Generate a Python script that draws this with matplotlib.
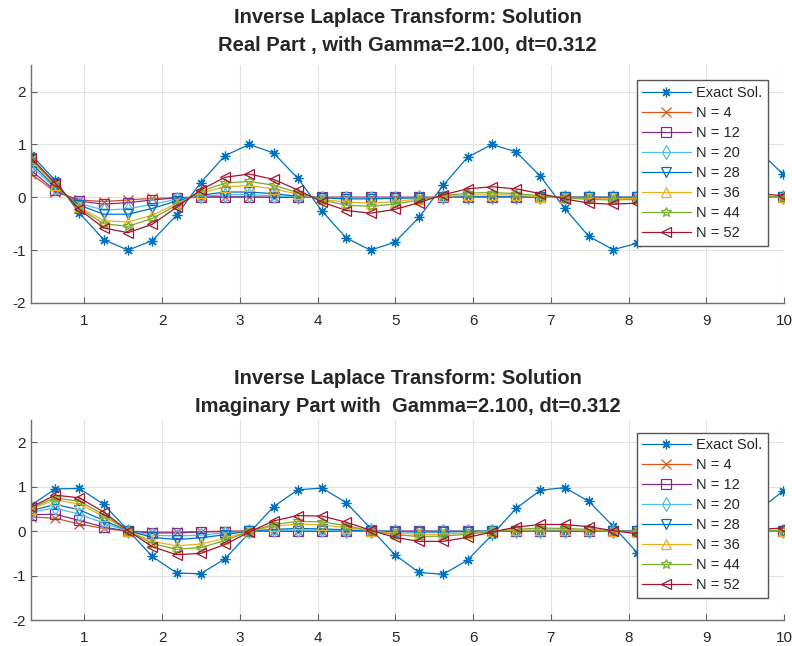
import numpy as np
import matplotlib
matplotlib.use("Agg")
import matplotlib.pyplot as plt

# time axis: t = k*dt, k = 1..32, dt = 0.312
t = [0.312, 0.624, 0.936, 1.248, 1.560, 1.872, 2.184, 2.496, 2.808, 3.120,
     3.432, 3.744, 4.056, 4.368, 4.680, 4.992, 5.304, 5.616, 5.928, 6.240,
     6.552, 6.864, 7.176, 7.488, 7.800, 8.112, 8.424, 8.736, 9.048, 9.360,
     9.672, 9.984]

labels = ["Exact Sol.", "N = 4", "N = 12", "N = 20", "N = 28", "N = 36", "N = 44", "N = 52"]

# real part
re_exact = [0.81, 0.32, -0.30, -0.80, -1.00, -0.82, -0.34, 0.28, 0.79, 1.00,
            0.84, 0.36, -0.26, -0.77, -1.00, -0.85, -0.38, 0.23, 0.76, 1.00,
            0.86, 0.40, -0.21, -0.74, -0.99, -0.87, -0.42, 0.19, 0.73, 0.99,
            0.88, 0.44]
re_n4 = [0.45, 0.10, -0.05, -0.08, -0.05, -0.02, -0.01, 0.00, 0.00, 0.00,
         0.00, 0.00, 0.00, 0.00, 0.00, 0.00, 0.00, 0.00, 0.00, 0.00,
         0.00, 0.00, 0.00, 0.00, 0.00, 0.00, 0.00, 0.00, 0.00, 0.00,
         0.00, 0.00]
re_n12 = [0.51, 0.13, -0.07, -0.13, -0.10, -0.05, -0.01, 0.01, 0.01, 0.01,
          0.00, 0.00, 0.00, 0.00, 0.00, 0.00, 0.00, 0.00, 0.00, 0.00,
          0.00, 0.00, 0.00, 0.00, 0.00, 0.00, 0.00, 0.00, 0.00, 0.00,
          0.00, 0.00]
re_n20 = [0.60, 0.17, -0.12, -0.24, -0.22, -0.13, -0.04, 0.02, 0.05, 0.05,
          0.03, 0.01, -0.01, -0.01, -0.01, -0.01, 0.00, 0.00, 0.00, 0.00,
          0.00, 0.00, 0.00, 0.00, 0.00, 0.00, 0.00, 0.00, 0.00, 0.00,
          0.00, 0.00]
re_n28 = [0.65, 0.20, -0.15, -0.32, -0.32, -0.21, -0.07, 0.04, 0.10, 0.10,
          0.07, 0.02, -0.01, -0.03, -0.03, -0.02, -0.01, 0.00, 0.01, 0.01,
          0.01, 0.00, 0.00, 0.00, 0.00, 0.00, 0.00, 0.00, 0.00, 0.00,
          0.00, 0.00]
re_n36 = [0.70, 0.24, -0.19, -0.44, -0.47, -0.34, -0.12, 0.08, 0.20, 0.22,
          0.16, 0.06, -0.04, -0.09, -0.11, -0.08, -0.03, 0.02, 0.04, 0.05,
          0.04, 0.01, -0.01, -0.02, -0.02, -0.02, -0.01, 0.00, 0.01, 0.01,
          0.01, 0.00]
re_n44 = [0.72, 0.25, -0.21, -0.50, -0.55, -0.40, -0.15, 0.11, 0.27, 0.30,
          0.23, 0.09, -0.05, -0.15, -0.17, -0.13, -0.05, 0.03, 0.08, 0.09,
          0.07, 0.03, -0.01, -0.04, -0.05, -0.04, -0.02, 0.01, 0.02, 0.03,
          0.02, 0.01]
re_n52 = [0.75, 0.27, -0.23, -0.58, -0.67, -0.51, -0.19, 0.14, 0.38, 0.44,
          0.34, 0.14, -0.09, -0.25, -0.30, -0.23, -0.10, 0.05, 0.16, 0.20,
          0.16, 0.07, -0.03, -0.11, -0.13, -0.11, -0.05, 0.02, 0.07, 0.09,
          0.07, 0.03]

# imaginary part
im_exact = [0.58, 0.95, 0.96, 0.60, 0.02, -0.57, -0.94, -0.96, -0.62, -0.04,
            0.55, 0.93, 0.97, 0.64, 0.06, -0.53, -0.93, -0.97, -0.65, -0.09,
            0.51, 0.92, 0.98, 0.67, 0.11, -0.49, -0.91, -0.98, -0.69, -0.13,
            0.47, 0.90]
im_n4 = [0.32, 0.29, 0.16, 0.06, 0.00, -0.02, -0.02, -0.01, 0.00, 0.00,
         0.00, 0.00, 0.00, 0.00, 0.00, 0.00, 0.00, 0.00, 0.00, 0.00,
         0.00, 0.00, 0.00, 0.00, 0.00, 0.00, 0.00, 0.00, 0.00, 0.00,
         0.00, 0.00]
im_n12 = [0.37, 0.38, 0.24, 0.09, 0.00, -0.04, -0.04, -0.02, -0.01, 0.00,
          0.00, 0.00, 0.00, 0.00, 0.00, 0.00, 0.00, 0.00, 0.00, 0.00,
          0.00, 0.00, 0.00, 0.00, 0.00, 0.00, 0.00, 0.00, 0.00, 0.00,
          0.00, 0.00]
im_n20 = [0.43, 0.52, 0.38, 0.18, 0.00, -0.09, -0.11, -0.09, -0.04, 0.00,
          0.02, 0.02, 0.02, 0.01, 0.00, 0.00, -0.01, 0.00, 0.00, 0.00,
          0.00, 0.00, 0.00, 0.00, 0.00, 0.00, 0.00, 0.00, 0.00, 0.00,
          0.00, 0.00]
im_n28 = [0.46, 0.60, 0.48, 0.24, 0.01, -0.14, -0.19, -0.15, -0.08, 0.00,
          0.04, 0.06, 0.05, 0.03, 0.00, -0.01, -0.02, -0.02, -0.01, 0.00,
          0.00, 0.01, 0.00, 0.00, 0.00, 0.00, 0.00, 0.00, 0.00, 0.00,
          0.00, 0.00]
im_n36 = [0.50, 0.70, 0.61, 0.33, 0.01, -0.23, -0.33, -0.29, -0.16, -0.01,
          0.11, 0.16, 0.14, 0.08, 0.01, -0.05, -0.07, -0.07, -0.04, 0.00,
          0.02, 0.03, 0.03, 0.02, 0.00, -0.01, -0.02, -0.01, -0.01, 0.00,
          0.00, 0.01]
im_n44 = [0.52, 0.75, 0.67, 0.37, 0.01, -0.28, -0.41, -0.37, -0.21, -0.01,
          0.15, 0.22, 0.21, 0.12, 0.01, -0.08, -0.12, -0.11, -0.07, -0.01,
          0.04, 0.07, 0.06, 0.04, 0.01, -0.02, -0.04, -0.04, -0.02, 0.00,
          0.01, 0.02]
im_n52 = [0.54, 0.81, 0.75, 0.43, 0.01, -0.35, -0.53, -0.50, -0.30, -0.02,
          0.23, 0.35, 0.34, 0.20, 0.02, -0.14, -0.23, -0.23, -0.14, -0.02,
          0.09, 0.15, 0.15, 0.10, 0.01, -0.06, -0.10, -0.10, -0.07, -0.01,
          0.04, 0.07]

real_series = [re_exact, re_n4, re_n12, re_n20, re_n28, re_n36, re_n44, re_n52]
imag_series = [im_exact, im_n4, im_n12, im_n20, im_n28, im_n36, im_n44, im_n52]

colors = ["#0072BD", "#D95319", "#7E2F8E", "#4DBEEE", "#0072BD", "#EDB120", "#77AC30", "#A2142F"]
# (8, 2, 0) is an asterisk like matlab's '*'
markers = [(8, 2, 0), "x", "s", "d", "v", "^", "*", "<"]

plt.rcParams['font.family'] = ['Liberation Sans', 'DejaVu Sans']
plt.rcParams['axes.unicode_minus'] = False
TXT = "#262626"


def draw_panel(ax, series, title, tpad):
    for y, c, m, lab in zip(series, colors, markers, labels):
        ax.plot(t, y, color=c, marker=m, markersize=7, linewidth=0.9,
                markerfacecolor='none', markeredgecolor=c, markeredgewidth=0.9,
                label=lab)
    ax.set_xlim(0.312, 10)
    ax.set_ylim(-2, 2.5)
    ax.set_xticks(range(1, 11))
    ax.set_yticks([-2, -1, 0, 1, 2])
    ax.grid(True, color='#e3e3e3', linewidth=0.8)
    ax.set_axisbelow(True)
    for s in ['top', 'right']:
        ax.spines[s].set_visible(False)
    for s in ['left', 'bottom']:
        ax.spines[s].set_color('#707070')
        ax.spines[s].set_linewidth(1.0)
    ax.tick_params(direction='in', length=4, colors='#606060', labelcolor=TXT,
                   labelsize=11)
    ax.tick_params(axis='x', pad=8)
    ax.set_title(title, fontsize=14.5, fontweight='bold', color=TXT,
                 linespacing=1.62, pad=tpad)
    leg = ax.legend(loc='upper right', bbox_to_anchor=(0.979, 0.937),
                    fontsize=10.5, frameon=True, fancybox=False,
                    framealpha=1, edgecolor='#555555', borderpad=0.4,
                    labelspacing=0.41, handlelength=3.3, handletextpad=0.4,
                    borderaxespad=0)
    leg.get_frame().set_linewidth(1.0)
    for txt in leg.get_texts():
        txt.set_color(TXT)


def main():
    fig = plt.figure(figsize=(7.92, 6.46), dpi=100)
    ax1 = fig.add_axes([0.0391, 0.531, 0.951, 0.368])
    ax2 = fig.add_axes([0.0391, 0.0402, 0.951, 0.3096])

    draw_panel(ax1, real_series,
               "Inverse Laplace Transform: Solution\nReal Part , with Gamma=2.100, dt=0.312", 10)
    draw_panel(ax2, imag_series,
               "Inverse Laplace Transform: Solution\nImaginary Part with  Gamma=2.100, dt=0.312", 5.5)

    fig.savefig("out.png", dpi=100)


if __name__ == "__main__":
    main()
